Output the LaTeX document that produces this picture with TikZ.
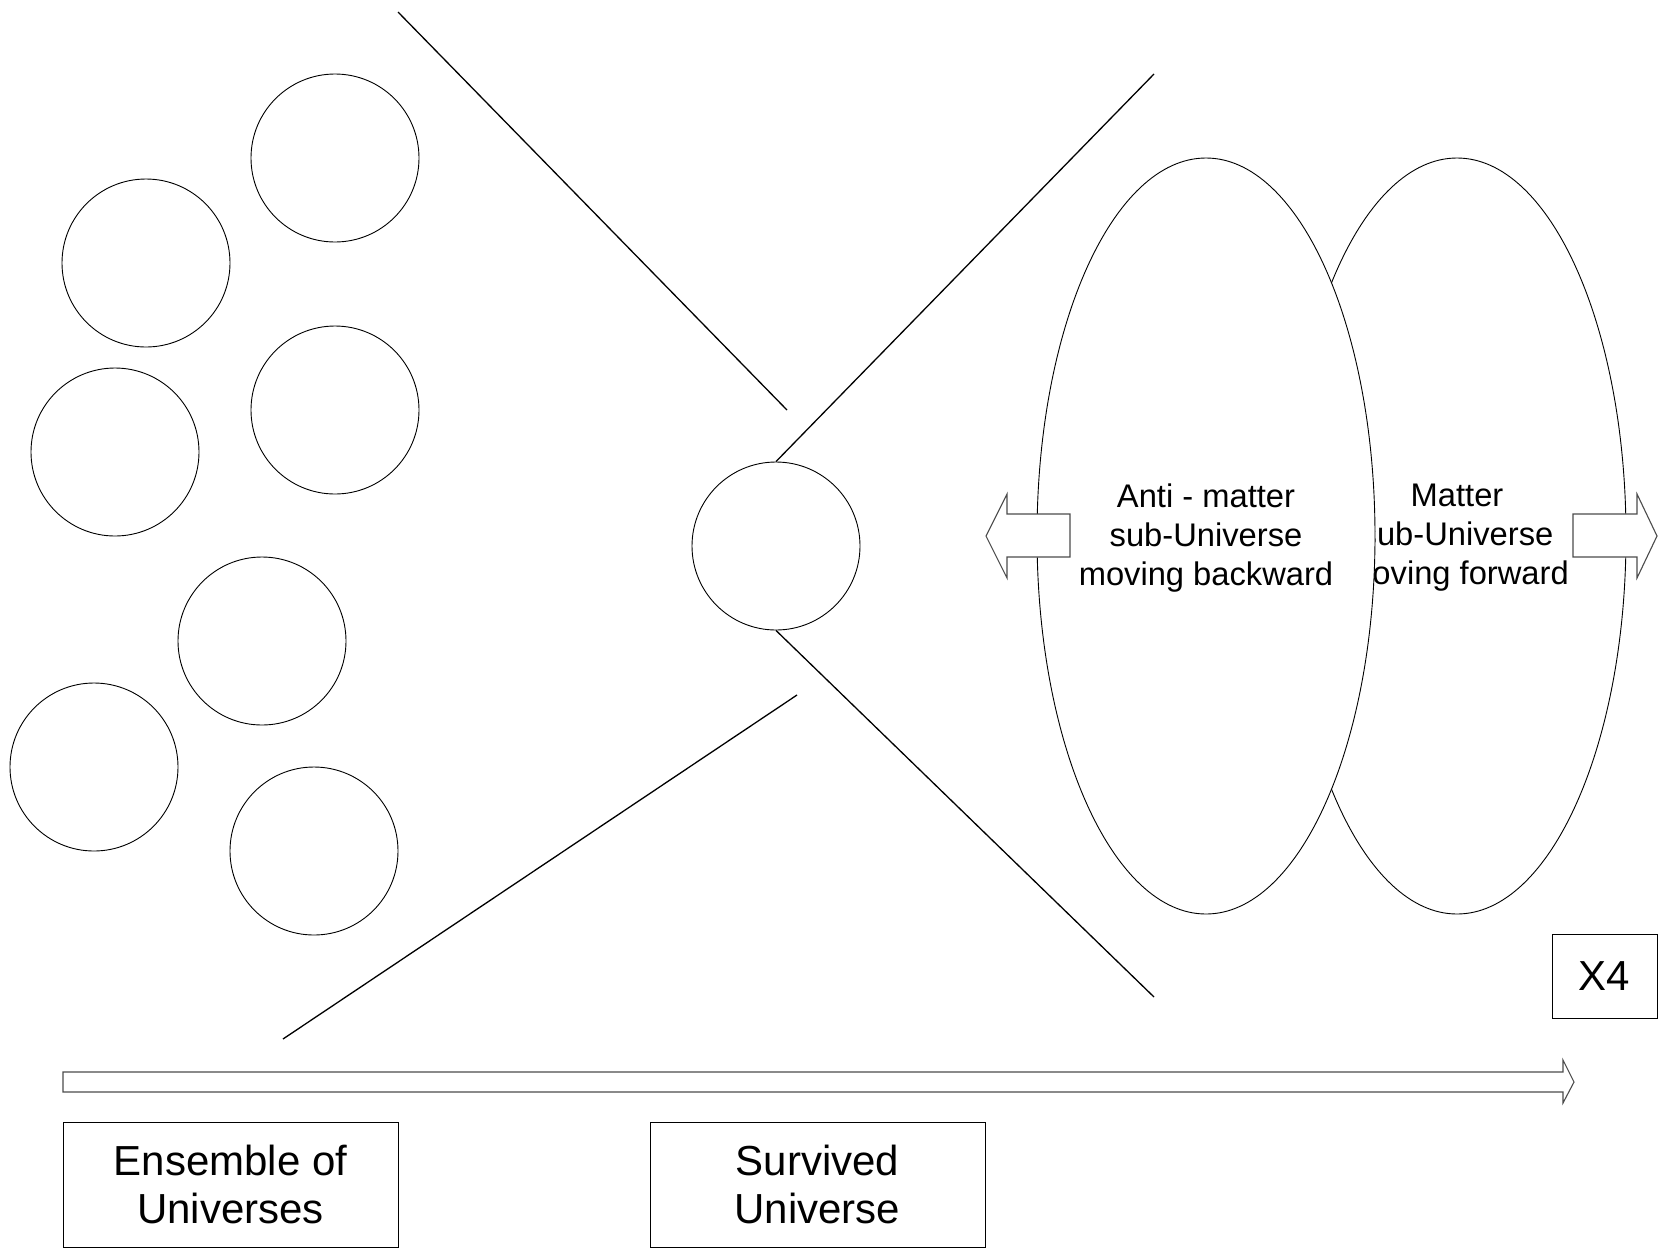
\documentclass[tikz,border=0pt]{standalone}
\usepackage{fontspec}
\setmainfont{Liberation Sans}
\usetikzlibrary{shapes.geometric}
\begin{document}
\begin{tikzpicture}[x=1pt,y=-1pt,
  uni/.style={draw, circle, minimum size=168pt, inner sep=0pt, line width=0.9pt, fill=white},
  cone/.style={line width=1.3pt},
  subu/.style={draw, ellipse, minimum width=338pt, minimum height=756pt, inner sep=0pt, line width=0.9pt, fill=white},
  etext/.style={align=center, font=\fontsize{32.7}{39}\selectfont, inner sep=0pt},
  fat/.style={draw=black!70, line width=1.1pt, fill=white, line join=miter},
  lbox/.style={draw, line width=0.9pt, minimum width=335pt, minimum height=125pt, inner sep=0pt, align=center, font=\fontsize{42}{48.5}\selectfont}
]
\useasboundingbox (0,0) rectangle (1663,1251);
% ensemble of universes
\node[uni] (c1) at (335,158) {};
\node[uni] (c2) at (146,263) {};
\node[uni] (c3) at (335,410) {};
\node[uni] (c4) at (115,452) {};
\node[uni] (c5) at (262,641) {};
\node[uni] (c6) at (94,767) {};
\node[uni] (c7) at (314,851) {};
% survived universe
\node[uni] (cc) at (776,546) {};
% cone lines
\coordinate (l1a) at (398,12);
\coordinate (l1b) at (787,410);
\coordinate (l2b) at (1154,74);
\coordinate (l3b) at (1154,997);
\coordinate (l4a) at (797,695);
\coordinate (l4b) at (283,1039);
\draw[cone] (l1a) -- (l1b);
\draw[cone] (l4a) -- (l4b);
\draw[cone] (cc.north) -- (l2b);
\draw[cone] (cc.south) -- (l3b);
% sub-universes
\node[subu] (em) at (1457,536) {};
\node[etext] (tm) at (1457,538) {Matter\\sub-Universe\\moving forward};
\node[subu] (ea) at (1206,536) {};
\node[etext] (ta) at (1206,538) {Anti - matter\\sub-Universe\\moving backward};
% side arrows
\draw[fat] (1070,514) -- (1007,514) -- (1007,494) -- (986,536) -- (1007,578) -- (1007,557) -- (1070,557) -- cycle;
\draw[fat] (1573,514) -- (1637,514) -- (1637,494) -- (1657,536) -- (1637,578) -- (1637,557) -- (1573,557) -- cycle;
% X4 box
\node[draw, line width=0.9pt, minimum width=105pt, minimum height=84pt, inner sep=0pt, font=\fontsize{42}{48}\selectfont] (x4) at (1604.5,976) {X4};
% time arrow
\draw[fat] (63,1072) -- (1563,1072) -- (1563,1060) -- (1574,1082) -- (1563,1103) -- (1563,1092) -- (63,1092) -- cycle;
% label boxes
\node[lbox] (b1) at (230.5,1184.5) {Ensemble of\\Universes};
\node[lbox] (b2) at (817.5,1184.5) {Survived\\Universe};
\end{tikzpicture}
\end{document}
